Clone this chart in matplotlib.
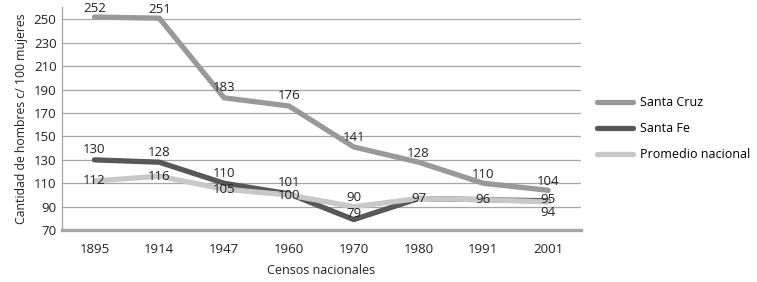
import numpy as np
import matplotlib
matplotlib.use("Agg")
import matplotlib.pyplot as plt

plt.rcParams['font.family'] = ['Open Sans', 'DejaVu Sans']

years = ['1895', '1914', '1947', '1960', '1970', '1980', '1991', '2001']
santa_cruz = [252, 251, 183, 176, 141, 128, 110, 104]
santa_fe = [130, 128, 110, 101, 79, 97, 96, 95]
promedio = [112, 116, 105, 100, 90, 97, 96, 94]
series_names = ['Santa Cruz', 'Santa Fe', 'Promedio nacional']

# label offsets in pixels (None = label not drawn, shared with other series)
off_cruz = [9, 9, 10, 10, 9, 9, 9, 9]
off_fe = [10, 10, 10, 11, 6, 0, 0, 1]
off_prom = [0, 0, 0, -1, 9, None, None, -10]

fig = plt.figure(figsize=(7.57, 2.82), dpi=100)
ax = fig.add_axes([0.082, 0.184, 0.685, 0.791])

x = np.arange(len(years))
colors = ['#999999', '#575757', '#c8c8c8']
lw = 3.8
l1, = ax.plot(x, santa_cruz, color=colors[0], lw=lw, solid_capstyle='round', zorder=3)
l2, = ax.plot(x, santa_fe, color=colors[1], lw=lw, solid_capstyle='round', zorder=3)
l3, = ax.plot(x, promedio, color=colors[2], lw=lw, solid_capstyle='round', zorder=4)

for vals, offs in [(santa_cruz, off_cruz), (santa_fe, off_fe), (promedio, off_prom)]:
    for xi, v, o in zip(x, vals, offs):
        if o is None:
            continue
        ax.annotate(str(v), (xi, v), xytext=(0, o), textcoords='offset pixels',
                    ha='center', va='center', fontsize=9.5, color='#222222', zorder=5)

ax.set_xlim(-0.5, len(years) - 0.5)
ax.set_ylim(70, 260.5)
ax.set_yticks(np.arange(70, 251, 20))
ax.set_xticks(x)
ax.set_xticklabels(years)
ax.tick_params(axis='both', length=0, labelsize=9.5, colors='#222222')
ax.tick_params(axis='x', pad=9)
ax.tick_params(axis='y', pad=4)
ax.grid(axis='y', color='#a6a6a6', lw=0.9, zorder=0)
ax.set_axisbelow(True)
for s in ['top', 'right']:
    ax.spines[s].set_visible(False)
ax.spines['left'].set_color('#a6a6a6')
ax.spines['left'].set_linewidth(0.9)
ax.spines['bottom'].set_color('#a6a6a6')
ax.spines['bottom'].set_linewidth(2.4)
ax.spines['bottom'].set_zorder(2)

ax.set_xlabel('Censos nacionales', fontsize=9, color='#222222', labelpad=6)
ax.set_ylabel('Cantidad de hombres c/ 100 mujeres', fontsize=8.8, color='#222222', labelpad=4)

fig.legend([l1, l2, l3], series_names, loc='center left', bbox_to_anchor=(0.788, 0.543),
           frameon=False, fontsize=9, handlelength=2.9, labelspacing=1.05,
           borderpad=0, borderaxespad=0, handletextpad=0.6)

fig.savefig('out.png', dpi=100, facecolor='white')
